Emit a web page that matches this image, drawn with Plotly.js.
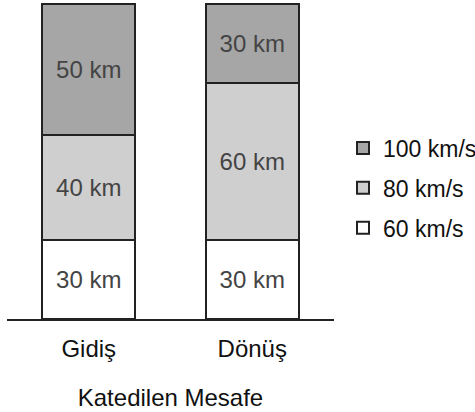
<!DOCTYPE html>
<html>
<head>
<meta charset="utf-8">
<script src="https://cdn.plot.ly/plotly-3.0.1.min.js"></script>
<style>html,body{margin:0;padding:0;background:#fff;}#chart{width:475px;height:412px;}</style>
</head>
<body>
<div id="chart"></div>
<script>
const categories = ['Gidiş', 'Dönüş'];
const seriesNames = ['60 km/s', '80 km/s', '100 km/s'];
const dist60 = [30, 30];
const dist80 = [40, 60];
const dist100 = [50, 30];
const colors = ['#ffffff', '#d0cfd0', '#a6a6a6'];
const values = [dist60, dist80, dist100];

const font = 'Liberation Sans, Arial, sans-serif';
const traces = values.map((v, i) => ({
  type: 'bar',
  x: categories,
  y: v,
  name: seriesNames[i],
  legendgroup: 'g' + i,
  legendrank: 10 - i,
  width: 0.57,
  marker: {color: colors[i], line: {color: '#222', width: 2}},
  texttemplate: '%{y} km',
  textposition: 'inside',
  insidetextanchor: 'middle',
  textfont: {family: font, size: 24, color: '#444'},
  hoverinfo: 'skip'
}));

const layout = {
  width: 475, height: 412,
  margin: {l: 7, r: 141, t: 2, b: 93},
  barmode: 'stack',
  showlegend: true,
  paper_bgcolor: '#fff', plot_bgcolor: '#fff',
  font: {family: font, color: '#111'},
  xaxis: {
    range: [-0.5, 1.5],
    showline: true, linecolor: '#222', linewidth: 2,
    ticks: 'outside', ticklen: 7, tickcolor: 'rgba(0,0,0,0)',
    tickfont: {size: 24, color: '#111'},
    title: {text: 'Katedilen Mesafe', font: {size: 24, color: '#111'}, standoff: 28},
    fixedrange: true
  },
  yaxis: {
    range: [0, 120.8], visible: false, showgrid: false, zeroline: false, fixedrange: true
  },
  legend: {
    xref: 'container', yref: 'container',
    x: 343 / 475, xanchor: 'left', y: 1 - 188 / 412, yanchor: 'middle',
    traceorder: 'grouped', tracegroupgap: 7,
    itemwidth: 30,
    font: {size: 23, color: '#111'}
  }
};

Plotly.newPlot('chart', traces, layout, {displayModeBar: false, staticPlot: true});
</script>
</body>
</html>
